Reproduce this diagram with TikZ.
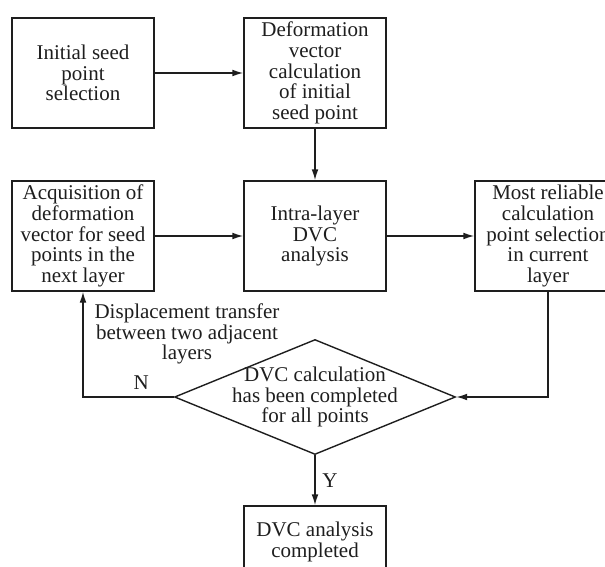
\documentclass[tikz,border=0pt]{standalone}
\usepackage{fontspec}
\setmainfont{Liberation Serif}
\usetikzlibrary{arrows.meta,positioning,shapes.geometric}
\definecolor{ink}{RGB}{30,30,30}
\tikzset{
  >={Latex[length=5.5pt,width=3.4pt]},
  box/.style={draw=ink,line width=0.7pt,minimum width=71pt,minimum height=55pt,
    inner sep=1pt,align=center,text=ink,font=\fontsize{10.5}{10.4}\selectfont},
  decision/.style={diamond,draw=ink,line width=0.7pt,minimum width=140.5pt,
    minimum height=57.5pt,inner sep=0pt},
  flow/.style={->,draw=ink,line width=0.7pt},
  tag/.style={font=\fontsize{10.5}{10.4}\selectfont,text=ink,align=center},
}
\begin{document}
\begin{tikzpicture}[x=0.5pt,y=-0.5pt]
  \useasboundingbox (0,0) rectangle (605,567);
  \clip (0,0) rectangle (605,567);
  % process boxes
  \node[box] (init) at (83,73) {Initial seed\\point\\selection};
  \node[box] (defvec) at (315,73) {Deformation\\vector\\calculation\\of initial\\seed point};
  \node[box] (acquire) at (83,236) {Acquisition of\\deformation\\vector for seed\\points in the\\next layer};
  \node[box] (intra) at (315,236) {Intra-layer\\DVC\\analysis};
  \node[box,minimum width=73pt] (reliable) at (548,236) {Most reliable\\calculation\\point selection\\in current\\layer};
  % decision
  \node[decision] (check) at (315,397) {};
  \node[tag] (checktxt) at (check.center) {DVC calculation\\has been completed\\for all points};
  \node[box,minimum height=36pt] (done) at (315,542) {DVC analysis\\completed};
  \node[tag] (transfer) at (187,334) {Displacement transfer\\between two adjacent\\layers};
  % connectors
  \draw[flow] (init) -- (defvec);
  \draw[flow] (defvec) -- (intra);
  \draw[flow] (acquire) -- (intra);
  \draw[flow] (intra) -- (reliable);
  \draw[flow] (reliable.south) |- (check.east);
  \draw[flow] (check.west) -| node[tag,pos=0.18,above] (nlabel) {N} (acquire.south);
  \draw[flow] (check.south) -- node[tag,right] (ylabel) {Y} (done.north);
\end{tikzpicture}
\end{document}
